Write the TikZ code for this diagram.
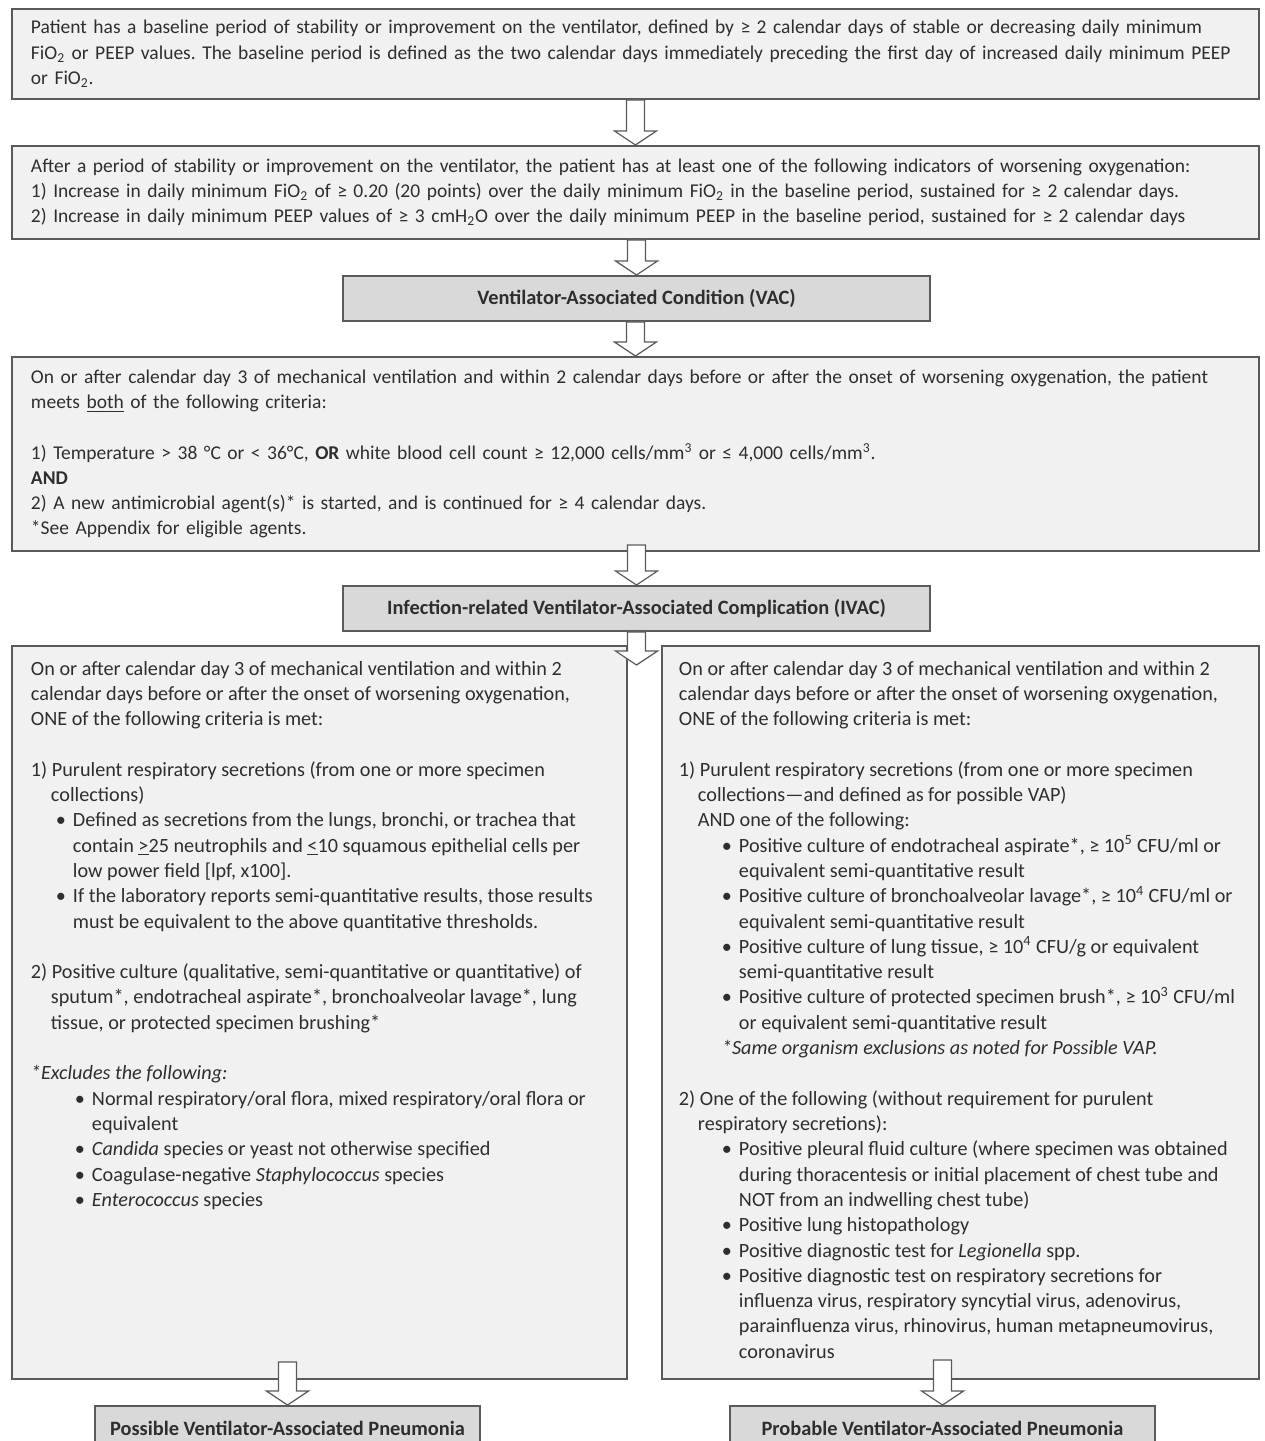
\documentclass[tikz,border=0pt]{standalone}
\usepackage{fontspec}
\setmainfont{Carlito}
\usepackage{xcolor}
\usepackage{tikz}
\usetikzlibrary{positioning, calc}
\definecolor{boxline}{HTML}{5A5A5A}
\definecolor{boxfill}{HTML}{F1F1F1}
\definecolor{titlefill}{HTML}{D9D9D9}
\definecolor{inkgray}{HTML}{2E2E2E}
\newcommand{\critfont}{\fontsize{11.1pt}{14.4pt}\selectfont\frenchspacing}
\newcommand{\vapfont}{\fontsize{11.5pt}{14.4pt}\selectfont\frenchspacing}
\newcommand{\bul}[2]{\hspace*{#1}\makebox[0.34cm][l]{\textbullet}#2}
\newcommand{\fatarrow}[2]{%
  \draw[fatarr] let \p1=(#1), \p2=(#2) in
    (\x2-0.18cm,\y1) -- (\x2+0.18cm,\y1) -- (\x2+0.18cm,\y2+0.28cm)
    -- (\x2+0.42cm,\y2+0.28cm) -- (\x2,\y2) -- (\x2-0.42cm,\y2+0.28cm)
    -- (\x2-0.18cm,\y2+0.28cm) -- cycle;}

\begin{document}
\begin{tikzpicture}
	\tikzstyle{critbox}=[draw=boxline, fill=boxfill, line width=1.1pt, align=left, anchor=north west, inner xsep=0.38cm, inner ysep=0pt, font=\critfont, text=inkgray]
	\tikzstyle{vapbox}=[draw=boxline, fill=boxfill, line width=1.1pt, anchor=north west, inner ysep=0pt, font=\vapfont, text=inkgray]
	\tikzstyle{titlebox}=[draw=boxline, fill=titlefill, line width=1.1pt, anchor=north, minimum height=0.9cm, font=\fontsize{11.6pt}{14pt}\selectfont\bfseries, text=inkgray]
	\tikzstyle{fatarr}=[draw=boxline, fill=white, line width=0.7pt, line join=miter]
	\useasboundingbox (0,0) rectangle (25.28,-28.82);

	% top of the chain
	\node[critbox, text width=24.18cm, minimum height=1.8cm] (base) at (0.22,-0.16) {Patient has a baseline period of stability or improvement on the ventilator, defined by ≥ 2 calendar days of stable or decreasing daily minimum\\
FiO\textsubscript{2} or PEEP values. The baseline period is defined as the two calendar days immediately preceding the first day of increased daily minimum PEEP\\
or FiO\textsubscript{2}.};
	\node[critbox, text width=24.18cm, minimum height=1.86cm] (rise) at (0.22,-2.9) {After a period of stability or improvement on the ventilator, the patient has at least one of the following indicators of worsening oxygenation:\\
1) Increase in daily minimum FiO\textsubscript{2} of ≥ 0.20 (20 points) over the daily minimum FiO\textsubscript{2} in the baseline period, sustained for ≥ 2 calendar days.\\
2) Increase in daily minimum PEEP values of ≥ 3 cmH\textsubscript{2}O over the daily minimum PEEP in the baseline period, sustained for ≥ 2 calendar days};
	\node[titlebox, minimum width=11.74cm] (vac) at (12.73,-5.5) {Ventilator-Associated Condition (VAC)};

	\node[critbox, text width=24.18cm, minimum height=3.88cm] (infect) at (0.22,-7.12) {On or after calendar day 3 of mechanical ventilation and within 2 calendar days before or after the onset of worsening oxygenation, the patient\\
meets \underline{both} of the following criteria:\\[14.4pt]
1) Temperature > 38 °C or < 36°C, \textbf{OR} white blood cell count ≥ 12,000 cells/mm\textsuperscript{3} or ≤ 4,000 cells/mm\textsuperscript{3}.\\
\textbf{AND}\\
2) A new antimicrobial agent(s)* is started, and is continued for ≥ 4 calendar days.\\
{*}See Appendix for eligible agents.};
	\node[titlebox, minimum width=11.74cm] (ivac) at (12.73,-11.7) {Infection-related Ventilator-Associated Complication (IVAC)};
	\coordinate (split) at (12.73,-13.3);

	% the two VAP branches
	\node[vapbox, inner xsep=0.38cm] (possvap) at (0.22,-12.9) {\parbox[t][14.66cm][t]{11.54cm}{\raggedright\vspace*{0.3cm}%
On or after calendar day 3 of mechanical ventilation and within 2\\
calendar days before or after the onset of worsening oxygenation,\\
ONE of the following criteria is met:\\[14.4pt]
1) Purulent respiratory secretions (from one or more specimen\\
\hspace*{0.4cm}collections)\\
\bul{0.5cm}{Defined as secretions from the lungs, bronchi, or trachea that}\\
\hspace*{0.84cm}contain \underline{>}25 neutrophils and \underline{<}10 squamous epithelial cells per\\
\hspace*{0.84cm}low power field [lpf, x100].\\
\bul{0.5cm}{If the laboratory reports semi-quantitative results, those results}\\
\hspace*{0.84cm}must be equivalent to the above quantitative thresholds.\\[14.4pt]
2) Positive culture (qualitative, semi-quantitative or quantitative) of\\
\hspace*{0.4cm}sputum*, endotracheal aspirate*, bronchoalveolar lavage*, lung\\
\hspace*{0.4cm}tissue, or protected specimen brushing*\\[14.4pt]
\textit{*Excludes the following:}\\
\bul{0.88cm}{Normal respiratory/oral flora, mixed respiratory/oral flora or}\\
\hspace*{1.22cm}equivalent\\
\bul{0.88cm}{\textit{Candida} species or yeast not otherwise specified}\\
\bul{0.88cm}{Coagulase-negative \textit{Staphylococcus} species}\\
\bul{0.88cm}{\textit{Enterococcus} species}}};
	\node[vapbox, inner xsep=0.34cm] (probvap) at (13.22,-12.9) {\parbox[t][14.66cm][t]{11.26cm}{\raggedright\vspace*{0.3cm}%
On or after calendar day 3 of mechanical ventilation and within 2\\
calendar days before or after the onset of worsening oxygenation,\\
ONE of the following criteria is met:\\[14.4pt]
1) Purulent respiratory secretions (from one or more specimen\\
\hspace*{0.38cm}collections—and defined as for possible VAP)\\
\hspace*{0.38cm}AND one of the following:\\
\bul{0.86cm}{Positive culture of endotracheal aspirate*, ≥ 10\textsuperscript{5} CFU/ml or}\\
\hspace*{1.2cm}equivalent semi-quantitative result\\
\bul{0.86cm}{Positive culture of bronchoalveolar lavage*, ≥ 10\textsuperscript{4} CFU/ml or}\\
\hspace*{1.2cm}equivalent semi-quantitative result\\
\bul{0.86cm}{Positive culture of lung tissue, ≥ 10\textsuperscript{4} CFU/g or equivalent}\\
\hspace*{1.2cm}semi-quantitative result\\
\bul{0.86cm}{Positive culture of protected specimen brush*, ≥ 10\textsuperscript{3} CFU/ml}\\
\hspace*{1.2cm}or equivalent semi-quantitative result\\
\hspace*{0.86cm}\textit{*Same organism exclusions as noted for Possible VAP.}\\[14.4pt]
2) One of the following (without requirement for purulent\\
\hspace*{0.38cm}respiratory secretions):\\
\bul{0.86cm}{Positive pleural fluid culture (where specimen was obtained}\\
\hspace*{1.2cm}during thoracentesis or initial placement of chest tube and\\
\hspace*{1.2cm}NOT from an indwelling chest tube)\\
\bul{0.86cm}{Positive lung histopathology}\\
\bul{0.86cm}{Positive diagnostic test for \textit{Legionella} spp.}\\
\bul{0.86cm}{Positive diagnostic test on respiratory secretions for}\\
\hspace*{1.2cm}influenza virus, respiratory syncytial virus, adenovirus,\\
\hspace*{1.2cm}parainfluenza virus, rhinovirus, human metapneumovirus,\\
\hspace*{1.2cm}coronavirus}};
	\node[titlebox, minimum width=7.7cm] (possible) at (5.75,-28.1) {Possible Ventilator-Associated Pneumonia};
	\node[titlebox, minimum width=8.5cm] (probable) at (18.85,-28.1) {Probable Ventilator-Associated Pneumonia};

	% block arrows
	\fatarrow{base.south}{rise.north}
	\fatarrow{rise.south}{vac.north}
	\fatarrow{vac.south}{infect.north}
	\fatarrow{$(infect.south)+(0,0.14)$}{ivac.north}
	\fatarrow{ivac.south}{split}
	\fatarrow{$(possvap.south)+(0,0.36)$}{possible.north}
	\fatarrow{$(probvap.south)+(0,0.4)$}{probable.north}
\end{tikzpicture}
\end{document}
